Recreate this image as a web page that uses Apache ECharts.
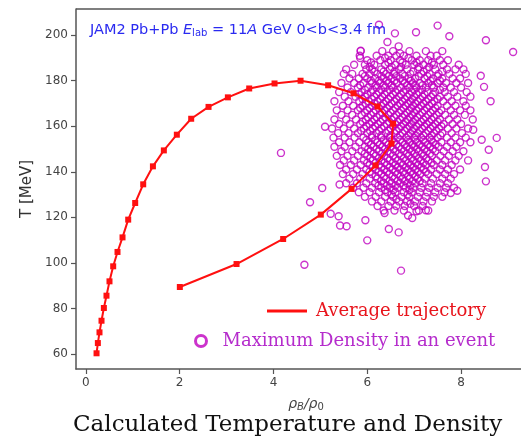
<!DOCTYPE html>
<html>
<head>
<meta charset="utf-8">
<script src="https://cdn.jsdelivr.net/npm/echarts@6/dist/echarts.min.js"></script>
<style>html,body{margin:0;padding:0;background:#fff;overflow:hidden;}#c{width:521px;height:437px;}</style>
</head>
<body>
<div id="c"></div>
<script>
// ---- data ----
const xTicks = [0, 2, 4, 6, 8];
const yTicks = [60, 80, 100, 120, 140, 160, 180, 200];

const trajRho = [0.228,0.256,0.291,0.334,0.384,0.44,0.504,0.583,0.675,0.782,0.903,1.052,1.223,1.43,1.663,1.94,2.246,2.616,3.028,3.483,4.023,4.578,5.166,5.707,6.219,6.551,6.517,6.177,5.665,5.01,4.207,3.213,2.004];
const trajT   = [60.3,64.8,69.5,74.6,80.2,85.6,91.9,98.5,104.8,111.2,119.0,126.3,134.5,142.4,149.4,156.3,163.3,168.5,172.7,176.6,178.8,180.0,178.0,174.5,168.7,161.1,152.4,142.8,132.5,121.2,110.5,99.5,89.4];

// event-by-event maximum density points, grouped in rows of T [MeV]
const rowT = [193,191,189,187,185,183,181,179,177,175,173,171,169,167,165,163,161,159,157,155,153,151,149,147,145,143,141,139,137,135,133,131,129,127,125,123];
const rowRho = [
 [5.86,6.32,6.55,6.9,7.25,7.6],
 [5.84,6.2,6.45,6.62,6.78,7.05,7.35,7.48],
 [6.0,6.28,6.5,6.7,6.95,7.12,7.3,7.55,7.72],
 [5.72,5.95,6.15,6.38,6.6,6.82,7.0,7.2,7.42,7.62,7.95],
 [5.55,5.98,6.1,6.3,6.48,6.68,6.85,7.08,7.27,7.45,7.7,7.88,8.05],
 [5.5,5.68,5.9,6.05,6.22,6.4,6.57,6.75,6.92,7.15,7.33,7.52,7.75,8.1],
 [5.62,5.82,6.0,6.17,6.35,6.52,6.7,6.88,7.02,7.22,7.4,7.6,7.82,7.98],
 [5.45,5.72,5.92,6.1,6.27,6.45,6.63,6.8,6.97,7.12,7.3,7.5,7.68,7.9,8.15],
 [5.58,5.8,6.02,6.2,6.38,6.55,6.72,6.9,7.05,7.25,7.42,7.62,7.78,8.0],
 [5.4,5.65,5.88,6.08,6.25,6.42,6.6,6.77,6.95,7.1,7.28,7.45,7.65,7.85,8.12],
 [5.52,5.75,5.95,6.15,6.32,6.5,6.68,6.85,7.0,7.18,7.36,7.55,7.72,7.92,8.2],
 [5.3,5.6,5.83,6.03,6.22,6.4,6.58,6.75,6.92,7.08,7.25,7.43,7.62,7.8,8.05],
 [5.48,5.7,5.9,6.1,6.3,6.47,6.65,6.82,6.98,7.15,7.32,7.5,7.7,7.88,8.1],
 [5.35,5.58,5.8,6.0,6.18,6.37,6.55,6.72,6.9,7.05,7.22,7.4,7.58,7.78,7.98,8.2],
 [5.45,5.68,5.88,6.08,6.27,6.45,6.62,6.8,6.96,7.12,7.3,7.48,7.66,7.85,8.08],
 [5.3,5.55,5.76,5.97,6.15,6.33,6.52,6.7,6.86,7.02,7.2,7.37,7.55,7.74,7.92,8.25],
 [5.4,5.63,5.85,6.05,6.23,6.42,6.6,6.77,6.94,7.1,7.27,7.45,7.63,7.82,8.0],
 [5.25,5.5,5.72,5.93,6.12,6.3,6.5,6.68,6.85,7.0,7.17,7.35,7.53,7.72,7.9,8.15],
 [5.38,5.6,5.8,6.0,6.2,6.4,6.58,6.75,6.92,7.08,7.25,7.42,7.6,7.8,8.02],
 [5.28,5.52,5.73,5.92,6.1,6.3,6.48,6.65,6.83,7.0,7.15,7.33,7.5,7.7,7.88,8.1],
 [5.4,5.62,5.83,6.02,6.22,6.4,6.57,6.75,6.9,7.06,7.23,7.4,7.58,7.78,7.98,8.2],
 [5.3,5.52,5.75,5.95,6.13,6.32,6.5,6.67,6.84,7.0,7.17,7.34,7.52,7.7,7.9],
 [5.45,5.68,5.88,6.07,6.25,6.43,6.6,6.78,6.95,7.1,7.27,7.45,7.63,7.82,8.05],
 [5.35,5.58,5.8,6.0,6.18,6.36,6.55,6.72,6.88,7.04,7.2,7.38,7.56,7.74,7.95],
 [5.5,5.72,5.93,6.12,6.3,6.48,6.65,6.82,6.98,7.14,7.3,7.48,7.66,7.88,8.15],
 [5.42,5.65,5.86,6.05,6.25,6.42,6.6,6.76,6.92,7.08,7.25,7.42,7.6,7.8],
 [5.55,5.78,5.98,6.18,6.36,6.54,6.7,6.87,7.03,7.2,7.36,7.55,7.72,7.98],
 [5.48,5.7,5.9,6.1,6.3,6.47,6.64,6.8,6.97,7.13,7.3,7.48,7.66,7.85],
 [5.62,5.85,6.05,6.22,6.4,6.58,6.75,6.9,7.07,7.23,7.4,7.6,7.78],
 [5.55,5.78,5.98,6.17,6.35,6.52,6.7,6.86,7.02,7.18,7.36,7.55,7.72],
 [5.7,5.92,6.1,6.3,6.48,6.65,6.82,6.98,7.15,7.32,7.5,7.68,7.85],
 [5.82,6.05,6.25,6.43,6.6,6.78,6.95,7.12,7.28,7.45,7.65],
 [5.95,6.18,6.38,6.55,6.73,6.9,7.08,7.25,7.42,7.6],
 [6.1,6.3,6.5,6.68,6.85,7.02,7.2,7.38],
 [6.22,6.45,6.62,6.8,7.0,7.18],
 [6.35,6.58,6.78,7.1,7.3]
];
// second, staggered set of rows in the dense core
const rowT2 = [192,190,188,186,184,182,180,178,176,174,172,170,168,166,164,162,160,158,156,154,152,150,148,146,144,142,140,138,136,134,132,130,128,126];
const rowRho2 = [
 [6.7],
 [6.38,6.88],
 [6.08,6.45,6.75,7.05,7.38],
 [6.05,6.52,6.72,7.1,7.32],
 [6.15,6.35,6.58,6.98,7.2,7.6],
 [5.95,6.3,6.46,6.62,6.8,7.1,7.28,7.5],
 [6.08,6.25,6.42,6.58,6.76,6.93,7.35,7.55],
 [5.85,6.18,6.35,6.52,6.85,7.02,7.18,7.38],
 [5.95,6.12,6.3,6.48,6.65,6.82,7.0,7.17,7.55],
 [5.82,6.0,6.2,6.37,6.55,6.72,6.9,7.05,7.22,7.4],
 [5.9,6.1,6.28,6.45,6.62,6.8,6.96,7.13,7.3,7.5],
 [5.97,6.15,6.35,6.52,6.7,6.87,7.03,7.2,7.38],
 [5.85,6.05,6.25,6.42,6.6,6.77,6.94,7.1,7.27,7.45],
 [5.95,6.13,6.32,6.5,6.68,6.85,7.0,7.17,7.35,7.53],
 [6.02,6.2,6.38,6.57,6.75,6.91,7.07,7.25,7.42],
 [5.9,6.1,6.28,6.47,6.65,6.82,6.98,7.15,7.32,7.5],
 [5.98,6.17,6.36,6.55,6.72,6.9,7.05,7.22,7.4,7.58],
 [5.87,6.06,6.25,6.45,6.63,6.8,6.96,7.12,7.3,7.47],
 [6.1,6.3,6.5,6.7,6.88,7.04,7.2,7.38,7.56],
 [5.98,6.17,6.35,6.53,6.7,6.87,7.03,7.2,7.37],
 [6.08,6.27,6.45,6.62,6.8,6.96,7.12,7.29,7.46],
 [6.02,6.2,6.38,6.56,6.73,6.9,7.06,7.22,7.4],
 [5.95,6.14,6.32,6.5,6.68,6.85,7.01,7.17,7.34],
 [6.07,6.25,6.43,6.6,6.78,6.94,7.1,7.26],
 [6.0,6.18,6.37,6.55,6.72,6.88,7.04,7.2,7.37],
 [6.12,6.3,6.48,6.65,6.82,6.98,7.15],
 [6.05,6.25,6.42,6.6,6.77,6.93,7.08,7.25],
 [6.18,6.36,6.54,6.71,6.87,7.03],
 [6.3,6.48,6.65,6.8,6.96,7.12],
 [6.24,6.42,6.6,6.77,6.92],
 [6.38,6.56,6.9],
 [6.52,6.86],
 [6.62],
 [6.92]
];
// isolated events around the cluster
const outRho = [6.25,6.59,7.04,7.5,7.75,8.53,9.11,6.43,6.67,5.86,5.85,8.42,8.49,8.63,8.44,8.76,8.59,8.51,8.53,8.26,7.92,7.78,5.10,4.16,5.41,5.04,4.78,5.22,5.39,5.42,5.56,5.96,6.0,6.46,6.67,4.66,6.72,6.87,6.96,7.05,7.25,6.37];
const outT   = [204.6,200.8,201.3,204.2,199.5,197.8,192.6,197.0,195.1,193.2,190.0,182.2,177.3,171.0,154.1,154.9,149.7,142.1,135.8,158.5,131.7,130.7,159.8,148.3,134.4,132.9,126.6,121.6,120.5,116.4,116.1,118.7,109.9,114.9,113.4,99.2,96.6,120.8,119.7,122.7,123.1,121.9];

// ---- build ----
const scatterData = [];
rowT.forEach((t, i) => rowRho[i].forEach(r => scatterData.push([r, t])));
rowT2.forEach((t, i) => rowRho2[i].forEach(r => scatterData.push([r, t])));
outRho.forEach((r, i) => scatterData.push([r, outT[i]]));
const trajData = trajRho.map((r, i) => [r, trajT[i]]);

const MAG = '#bf00bf';
const FRAME = {show: true, onZero: false, lineStyle: {color: '#555', width: 1.5}};
const chart = echarts.init(document.getElementById('c'), null, {renderer: 'canvas'});
chart.setOption({
  animation: false,
  backgroundColor: '#fff',
  title: {
    text: 'Calculated Temperature and Density',
    left: 68, top: 409,
    textStyle: {fontFamily: 'DejaVu Serif', fontSize: 23, fontWeight: 'normal', color: '#111'}
  },
  grid: {left: 76, top: 9, width: 460, height: 360, show: false, containLabel: false, outerBoundsMode: 'none'},
  xAxis: {
    type: 'value', min: -0.21, max: 9.598, position: 'bottom',
    axisLine: FRAME,
    axisTick: {show: true, length: 5, lineStyle: {color: '#555', width: 1.2}, customValues: xTicks},
    axisLabel: {customValues: xTicks, color: '#444', fontFamily: 'DejaVu Sans', fontSize: 12, margin: 8},
    splitLine: {show: false},
    name: '{i|ρ}{s|B}{i|/ρ}{t|0}',
    nameLocation: 'middle', nameGap: 27,
    nameTextStyle: {
      rich: {
        i: {fontFamily: 'DejaVu Sans', fontStyle: 'italic', fontSize: 14, color: '#444'},
        s: {fontFamily: 'DejaVu Sans', fontStyle: 'italic', fontSize: 10, color: '#444', padding: [6, 0, 0, 0]},
        t: {fontFamily: 'DejaVu Sans', fontSize: 10, color: '#444', padding: [6, 0, 0, 0]}
      }
    }
  },
  yAxis: {
    type: 'value', min: 53.4, max: 211.5,
    axisLine: FRAME,
    axisTick: {show: true, length: 5, lineStyle: {color: '#555', width: 1.2}, customValues: yTicks},
    axisLabel: {customValues: yTicks, color: '#444', fontFamily: 'DejaVu Sans', fontSize: 12, margin: 8},
    splitLine: {show: false},
    name: 'T [MeV]', nameLocation: 'middle', nameGap: 35,
    nameTextStyle: {fontFamily: 'DejaVu Sans', fontSize: 15, color: '#333'}
  },
  legend: [
    {
      data: ['Average trajectory'],
      left: 262, top: 297,
      icon: 'rect', itemWidth: 40, itemHeight: 3, itemGap: 0,
      textStyle: {fontFamily: 'DejaVu Serif', fontSize: 18, color: '#e8141c', padding: [0, 0, 0, 4]}
    },
    {
      data: ['Maximum Density in an event'],
      left: 189, top: 327,
      icon: 'circle', itemWidth: 11, itemHeight: 11,
      itemStyle: {color: '#fff', borderColor: MAG, borderWidth: 3},
      textStyle: {fontFamily: 'DejaVu Serif', fontSize: 18, color: '#b52ccc', padding: [0, 0, 0, 11]}
    }
  ],
  graphic: [
    {
      type: 'line', z: 10,
      shape: {x1: 76, y1: 9, x2: 521, y2: 9},
      style: {stroke: '#555', lineWidth: 1.5}
    },
    {
      type: 'text', left: 90, top: 23, z: 10,
      style: {
        text: '{n|JAM2 Pb+Pb }{i|E}{s|lab}{n| = 11}{i|A}{n| GeV 0<b<3.4 fm}',
        rich: {
          n: {fontFamily: 'DejaVu Sans', fontSize: 14.5, fill: '#2a2af0'},
          i: {fontFamily: 'DejaVu Sans', fontStyle: 'italic', fontSize: 14.5, fill: '#2a2af0'},
          s: {fontFamily: 'DejaVu Sans', fontSize: 10, fill: '#2a2af0', padding: [6, 0, 0, 0]}
        }
      }
    }
  ],
  series: [
    {
      name: 'Maximum Density in an event',
      type: 'scatter',
      data: scatterData,
      symbol: 'circle', symbolSize: 7,
      itemStyle: {color: 'rgba(0,0,0,0)', borderColor: MAG, borderWidth: 1.4, opacity: 0.8},
      z: 2
    },
    {
      name: 'Average trajectory',
      type: 'line',
      data: trajData,
      symbol: 'rect', symbolSize: 6,
      lineStyle: {color: '#ff1010', width: 2},
      itemStyle: {color: '#ff1010'},
      z: 5
    }
  ]
});
</script>
</body>
</html>
